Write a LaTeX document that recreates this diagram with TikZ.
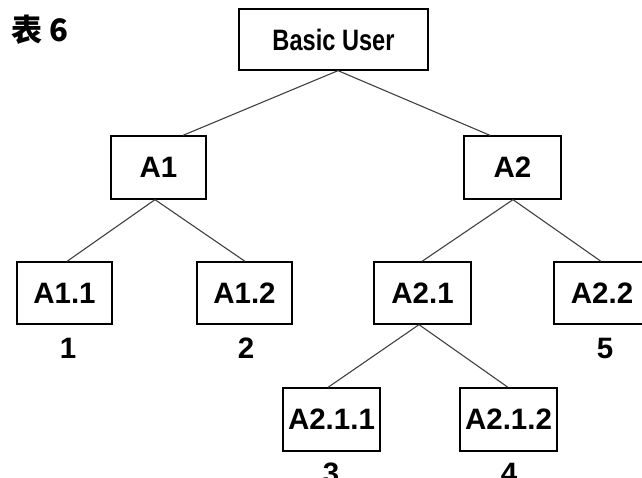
\documentclass[tikz,border=0pt]{standalone}
\usepackage{fontspec}
\setmainfont{Liberation Sans}
\newfontfamily\cjk{Noto Sans CJK SC}
\usetikzlibrary{positioning}
\begin{document}
\begin{tikzpicture}[x=1pt,y=-1pt,
  box/.style={draw=black,line width=1.3pt,fill=white,inner sep=0pt,minimum height=62pt,font=\fontsize{29.5}{31}\selectfont\bfseries},
  conn/.style={draw=black!75,line width=1.1pt},
  num/.style={inner sep=0pt,font=\fontsize{29.5}{31}\selectfont\bfseries}]
\useasboundingbox (0,0) rectangle (642,477);
\clip (0,0) rectangle (642,477);
\node[inner sep=0pt,anchor=west,font=\fontsize{31}{33}\selectfont\bfseries\cjk] (title) at (11,30) {表 6};
\node[box,minimum width=189pt,minimum height=61pt] (bu) at (333.5,39.5) {\scalebox{0.8}[1]{Basic User}};
\node[box,minimum width=95pt,minimum height=63pt] (a1) at (158.5,167.5) {A1};
\node[box,minimum width=97pt,minimum height=63pt] (a2) at (512.5,167.5) {A2};
\node[box,minimum width=95pt] (a11) at (64.5,293) {A1.1};
\node[box,minimum width=95pt] (a12) at (244.5,293) {A1.2};
\node[box,minimum width=97pt] (a21) at (422.5,293) {A2.1};
\node[box,minimum width=96pt] (a22) at (602,293) {A2.2};
\node[box,minimum width=97pt,minimum height=63pt] (a211) at (331.5,419.5) {A2.1.1};
\node[box,minimum width=97pt,minimum height=63pt] (a212) at (508.5,419.5) {A2.1.2};
\node[num] (n1) at (68,348) {1};
\node[num] (n2) at (246,348) {2};
\node[num] (n5) at (605,348) {5};
\node[num] (n3) at (331,473) {3};
\node[num] (n4) at (509,473) {4};
\draw[conn] ([xshift=4.5]bu.south) -- ([xshift=24.5]a1.north);
\draw[conn] ([xshift=4.5]bu.south) -- ([xshift=-22.5]a2.north);
\draw[conn] ([xshift=-3.5]a1.south) -- ([xshift=2.5]a11.north);
\draw[conn] ([xshift=-3.5]a1.south) -- ([xshift=0.5]a12.north);
\draw[conn] ([xshift=0.5]a2.south) -- ([xshift=-0.5]a21.north);
\draw[conn] ([xshift=0.5]a2.south) -- ([xshift=-1]a22.north);
\draw[conn] ([xshift=-3.5]a21.south) -- ([xshift=-3.5]a211.north);
\draw[conn] ([xshift=-3.5]a21.south) -- ([xshift=-0.5]a212.north);
\end{tikzpicture}
\end{document}
